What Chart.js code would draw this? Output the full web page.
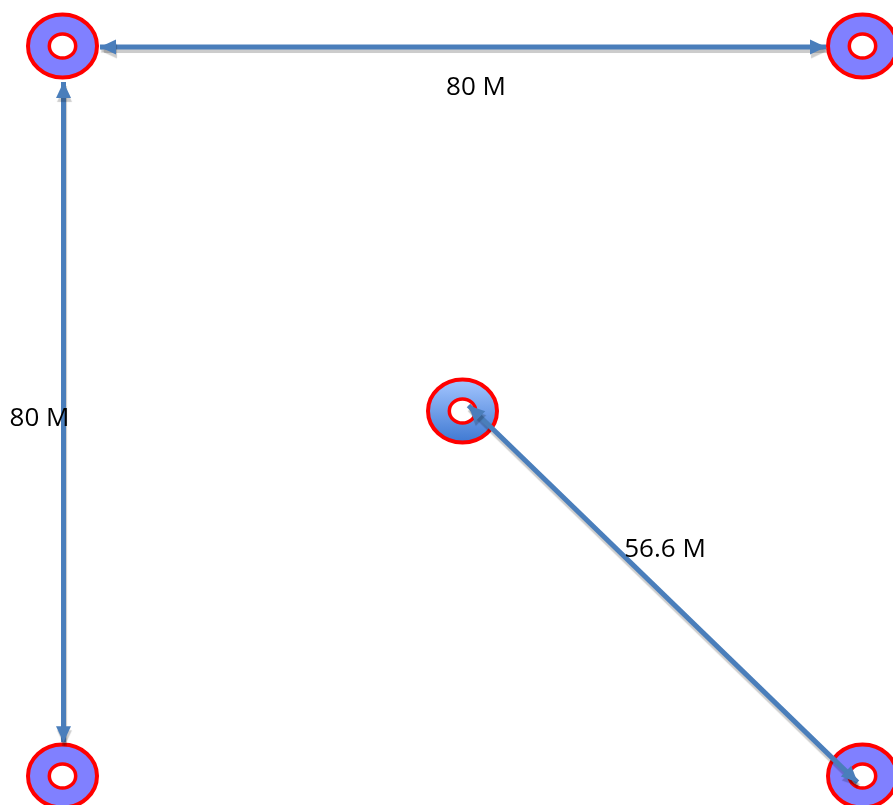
<!DOCTYPE html>
<html>
<head>
<meta charset="utf-8">
<script src="https://cdn.jsdelivr.net/npm/chart.js@4"></script>
<style>
  html, body { margin: 0; padding: 0; background: #fff; }
  #wrap { width: 893px; height: 805px; }
</style>
</head>
<body>
<div id="wrap"><canvas id="layout"></canvas></div>
<script>
// node positions, metres
const nodeX = [0, 80, 0, 80, 40];
const nodeY = [0, 0, 80, 80, 40];
const nodeCentral = [false, false, false, false, true];

// measured links (arrow ends, metres)
const arrowX1 = [3.75, 0.1, 40.6];
const arrowY1 = [0.1, 3.95, 39.4];
const arrowX2 = [76.35, 0.1, 79.5];
const arrowY2 = [0.1, 76.3, 80.7];
const distLabels = ["80 M", "80 M", "56.6 M"];

const RING = 3.45;   // outer ring radius (m)
const HOLE = 1.32;   // inner hole radius (m)
const BLUE = "#4a7ebb";
const RED = "#ff0000";

// label offsets from arrow midpoint, px
const labelShift = [[13, 48], [-24, 14], [2, -37]];

const arrowSets = arrowX1.map((x1, i) => ({
  label: distLabels[i],
  data: [{ x: x1, y: arrowY1[i] }, { x: arrowX2[i], y: arrowY2[i] }],
  showLine: true,
  borderColor: BLUE,
  borderWidth: 5,
  borderCapStyle: "butt",
  pointRadius: 0,
  pointHoverRadius: 0,
}));

const withShadow = (ctx) => {
  ctx.shadowColor = "rgba(0,0,0,0.2)";
  ctx.shadowOffsetX = 1;
  ctx.shadowOffsetY = 4;
  ctx.shadowBlur = 1;
};

const ringPlugin = {
  id: "rings",
  beforeDatasetsDraw(chart) {
    const { ctx, scales: { x, y } } = chart;
    nodeX.forEach((nx, i) => {
      const cx = x.getPixelForValue(nx);
      const cy = y.getPixelForValue(nodeY[i]);
      const rx = Math.abs(x.getPixelForValue(nx + RING) - cx);
      const ry = Math.abs(y.getPixelForValue(nodeY[i] + RING) - cy);
      const hx = Math.abs(x.getPixelForValue(nx + HOLE) - cx);
      const hy = Math.abs(y.getPixelForValue(nodeY[i] + HOLE) - cy);
      ctx.save();
      ctx.beginPath();
      ctx.ellipse(cx, cy, rx, ry, 0, 0, Math.PI * 2);
      if (nodeCentral[i]) {
        const g = ctx.createLinearGradient(0, cy - ry, 0, cy + ry);
        g.addColorStop(0, "#a4c6ff");
        g.addColorStop(1, "#3f79d2");
        ctx.fillStyle = g;
      } else {
        ctx.fillStyle = "#8080ff";
      }
      ctx.fill();
      ctx.lineWidth = 4;
      ctx.strokeStyle = RED;
      ctx.stroke();
      ctx.beginPath();
      ctx.ellipse(cx, cy, hx, hy, 0, 0, Math.PI * 2);
      ctx.fillStyle = "#fff";
      ctx.fill();
      ctx.lineWidth = 3.5;
      ctx.stroke();
      ctx.restore();
    });
  },
  beforeDatasetDraw(chart) {
    chart.ctx.save();
    withShadow(chart.ctx);
  },
  afterDatasetDraw(chart) {
    chart.ctx.restore();
  },
  afterDatasetsDraw(chart) {
    const { ctx, scales: { x, y } } = chart;
    arrowX1.forEach((x1, i) => {
      const p1 = [x.getPixelForValue(x1), y.getPixelForValue(arrowY1[i])];
      const p2 = [x.getPixelForValue(arrowX2[i]), y.getPixelForValue(arrowY2[i])];
      const ang = Math.atan2(p2[1] - p1[1], p2[0] - p1[0]);
      ctx.save();
      withShadow(ctx);
      ctx.fillStyle = BLUE;
      [[p1, ang + Math.PI], [p2, ang]].forEach(([p, a]) => {
        const len = 16, half = 7.5;
        const bx = p[0] - Math.cos(a) * len, by = p[1] - Math.sin(a) * len;
        ctx.beginPath();
        ctx.moveTo(p[0], p[1]);
        ctx.lineTo(bx - Math.sin(a) * half, by + Math.cos(a) * half);
        ctx.lineTo(bx + Math.sin(a) * half, by - Math.cos(a) * half);
        ctx.closePath();
        ctx.fill();
      });
      ctx.restore();

      ctx.save();
      ctx.font = '26px "Open Sans", sans-serif';
      ctx.fillStyle = "#000";
      ctx.textAlign = "center";
      ctx.textBaseline = "alphabetic";
      const mx = (p1[0] + p2[0]) / 2 + labelShift[i][0];
      const my = (p1[1] + p2[1]) / 2 + labelShift[i][1];
      ctx.fillText(distLabels[i], mx, my);
      ctx.restore();
    });
  },
};

const ctx = document.querySelector("#layout").getContext("2d");
const chart = new Chart(ctx, {
  type: "scatter",
  data: { datasets: arrowSets },
  options: {
    responsive: true,
    maintainAspectRatio: false,
    animation: false,
    layout: { padding: 0 },
    plugins: {
      legend: { display: false },
      tooltip: { enabled: false },
    },
    scales: {
      x: { type: "linear", min: -6.25, max: 83.05, display: false },
      y: { type: "linear", min: -5.04, max: 83.18, reverse: true, display: false },
    },
  },
  plugins: [ringPlugin],
});
</script>
</body>
</html>
